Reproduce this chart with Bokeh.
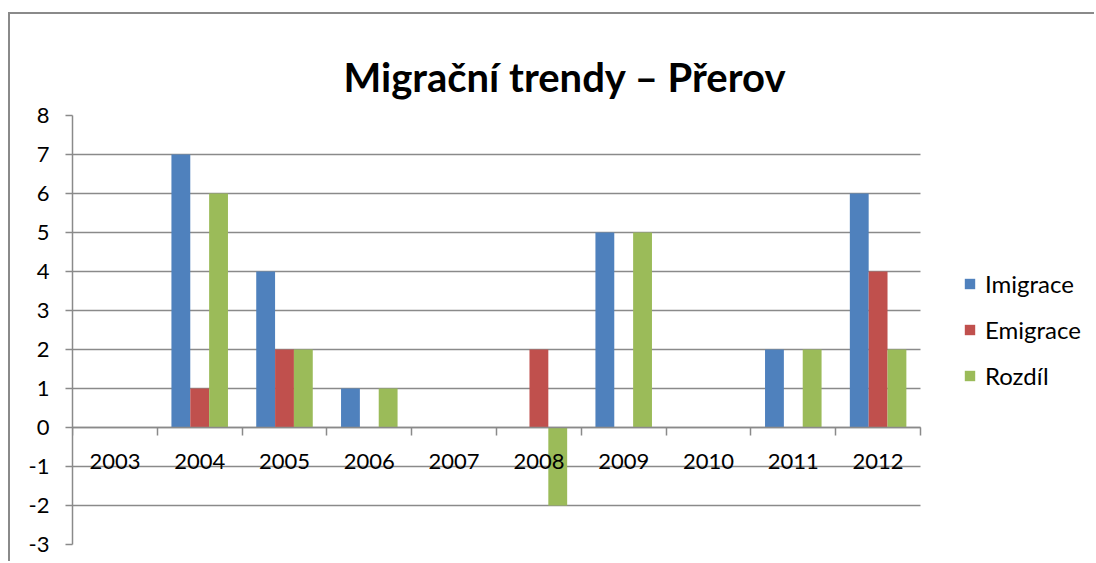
from bokeh.plotting import figure
from bokeh.models import (Range1d, LinearAxis, FixedTicker, BoxAnnotation, Title,
                          Legend, LegendItem, ColumnDataSource)
from bokeh.transform import dodge
from bokeh.embed import file_html
from bokeh.resources import INLINE

years = ["2003", "2004", "2005", "2006", "2007", "2008", "2009", "2010", "2011", "2012"]
imigrace = [0, 7, 4, 1, 0, 0, 5, 0, 2, 6]
emigrace = [0, 1, 2, 0, 0, 2, 0, 0, 0, 4]
rozdil = [0, 6, 2, 1, 0, -2, 5, 0, 2, 2]
series_names = ["Imigrace", "Emigrace", "Rozdíl"]
colors = ["#4F81BD", "#C0504D", "#9BBB59"]
y_ticks = list(range(-3, 9))

FONT = "Lato"
GRID = "#8a8a8a"

n = len(years)
centers = [i + 0.5 for i in range(n)]
src = ColumnDataSource(dict(x=centers, imigrace=imigrace, emigrace=emigrace, rozdil=rozdil))

# plot area is 848 px for the categories; the frame extends to the right edge (1024 px)
# so the legend can be drawn inside it
x_end = n * 1024 / 848

p = figure(width=1086, height=549, x_range=Range1d(0, x_end),
           y_range=Range1d(-3, 8), output_backend="svg", toolbar_location=None,
           x_axis_location=None, y_axis_location="left",
           min_border_left=62, min_border_right=0, min_border_top=101, min_border_bottom=19)
p.margin = (12, 0, 0, 8)
p.styles = {"border-left": "2px solid #8a8a8a", "border-top": "2px solid #8a8a8a"}
p.outline_line_color = None
p.background_fill_color = "white"
p.border_fill_color = "white"

p.title.text = "Migrační trendy – Přerov"
p.title.text_font = FONT
p.title.text_font_size = "40px"
p.title.text_font_style = "bold"
p.title.text_color = "black"
p.title.align = "left"
p.title.offset = 271
p.title.standoff = 29

# invisible spacer between title and plot area
top_spacer = Title(text=".", text_font_size="1px", text_alpha=0.0, standoff=21)
p.add_layout(top_spacer, "above")

w = 1 / 4.5
fields = ["imigrace", "emigrace", "rozdil"]
offsets = [-w, 0, w]
renderers = []
for f, off, c in zip(fields, offsets, colors):
    r = p.vbar(x=dodge("x", off), top=f, bottom=0, width=w,
               source=src, fill_color=c, line_color=None)
    renderers.append(r)

# y axis
yax = p.yaxis[0]
yax.ticker = FixedTicker(ticks=y_ticks)
yax.major_label_overrides = {t: str(t) for t in y_ticks}
yax.axis_line_color = GRID
yax.axis_line_width = 1.5
yax.major_tick_line_color = GRID
yax.major_tick_line_width = 1.5
yax.major_tick_out = 7
yax.major_tick_in = 0
yax.minor_tick_line_color = None
yax.major_label_text_font = FONT
yax.major_label_text_font_size = "22px"
yax.major_label_text_color = "black"
yax.major_label_standoff = 16

p.xgrid.visible = False
p.ygrid.ticker = FixedTicker(ticks=y_ticks)
p.ygrid.grid_line_color = GRID
p.ygrid.grid_line_width = 1.5

# blank out grid lines to the right of the plot area
cover = BoxAnnotation(left=n, fill_color="white", fill_alpha=1.0, line_color=None, level="underlay")
p.add_layout(cover)

# x category labels axis fixed at 0
xlab = LinearAxis(fixed_location=0, ticker=FixedTicker(ticks=centers), bounds=(0, n),
                  major_label_overrides={c: y for c, y in zip(centers, years)})
xlab.axis_line_color = GRID
xlab.axis_line_width = 1.5
xlab.major_tick_line_color = None
xlab.minor_tick_line_color = None
xlab.major_label_text_font = FONT
xlab.major_label_text_font_size = "22px"
xlab.major_label_text_color = "black"
xlab.major_label_standoff = 20
p.add_layout(xlab, "below")

# boundary ticks
xtk = LinearAxis(fixed_location=0, ticker=FixedTicker(ticks=list(range(0, n + 1))), bounds=(0, n))
xtk.axis_line_color = None
xtk.major_tick_line_color = GRID
xtk.major_tick_line_width = 1.5
xtk.major_tick_out = 8
xtk.major_tick_in = 0
xtk.minor_tick_line_color = None
xtk.major_label_text_font_size = "0px"
xtk.major_label_text_color = None
p.add_layout(xtk, "below")

legend = Legend(items=[LegendItem(label=s, renderers=[r]) for s, r in zip(series_names, renderers)],
                location=(891, 154), orientation="vertical")
legend.glyph_width = 13
legend.glyph_height = 13
legend.label_height = 22
legend.label_standoff = 9
legend.spacing = 17
legend.padding = 0
legend.margin = 0
legend.border_line_color = None
legend.background_fill_color = None
legend.label_text_font = FONT
legend.label_text_font_size = "24px"
legend.label_text_color = "black"
p.add_layout(legend, "center")

open("out.html", "w").write(file_html(p, INLINE))
